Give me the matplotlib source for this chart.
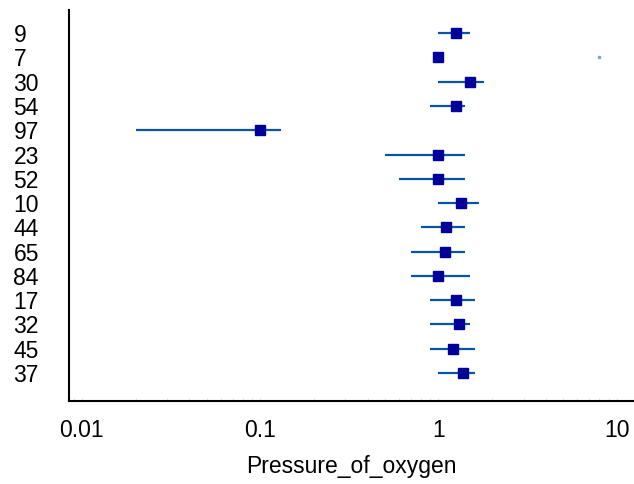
import matplotlib
matplotlib.use("Agg")
import matplotlib.pyplot as plt
from matplotlib.ticker import FixedLocator, NullFormatter, LogLocator

plt.rcParams['font.family'] = ['Liberation Sans', 'DejaVu Sans']

# rows, top to bottom
labels = ["9", "7", "30", "54", "97", "23", "52", "10", "44", "65", "84", "17", "32", "45", "37"]
estimate = [1.25, 1.0, 1.5, 1.25, 0.1, 1.0, 1.0, 1.34, 1.1, 1.09, 1.0, 1.25, 1.3, 1.2, 1.37]
lower = [1.0, 1.0, 1.0, 0.9, 0.02, 0.5, 0.6, 1.0, 0.8, 0.7, 0.7, 0.9, 0.9, 0.9, 1.0]
upper = [1.5, 1.0, 1.8, 1.4, 0.13, 1.4, 1.4, 1.69, 1.4, 1.4, 1.5, 1.6, 1.5, 1.6, 1.6]
xticks = [0.01, 0.1, 1, 10]
xtick_labels = ["0.01", "0.1", "1", "10"]
stray_x, stray_label = 8.0, "7"

n = len(labels)
ypos = [n - 1 - i for i in range(n)]

fig = plt.figure(figsize=(6.34, 4.84), dpi=100)
ax = fig.add_axes([0.1088, 0.1715, 0.8912, 0.8078])

ax.hlines(ypos, lower, upper, color='#0a55a3', lw=1.6, zorder=2)
ax.plot(estimate, ypos, 's', color='#000099', markersize=6.5, zorder=3, linestyle='none')
ax.plot([stray_x], [ypos[labels.index(stray_label)]], 's', color='#7aa6d8',
        markersize=1.5, zorder=3)

ax.set_xscale('log')
ax.set_xlim(0.00846, 12.5)
ax.set_ylim(-1.15, n - 1 + 0.95)

ax.xaxis.set_major_locator(FixedLocator(xticks))
ax.set_xticklabels(xtick_labels, fontsize=16.5)
ax.xaxis.set_minor_locator(LogLocator(base=10, subs=range(2, 10)))
ax.xaxis.set_minor_formatter(NullFormatter())
ax.tick_params(axis='x', which='both', direction='in', length=2, width=0.8,
               color='#e2e2e2', pad=13)

ax.set_yticks(ypos)
ax.set_yticklabels(labels, fontsize=16.5, ha='left')
ax.tick_params(axis='y', length=0, pad=40)

ax.spines['top'].set_visible(False)
ax.spines['right'].set_visible(False)
ax.spines['left'].set_linewidth(1.5)
ax.spines['bottom'].set_linewidth(1.5)

ax.set_xlabel("Pressure_of_oxygen", fontsize=16.5, labelpad=9)

fig.savefig("out.png", dpi=100)
